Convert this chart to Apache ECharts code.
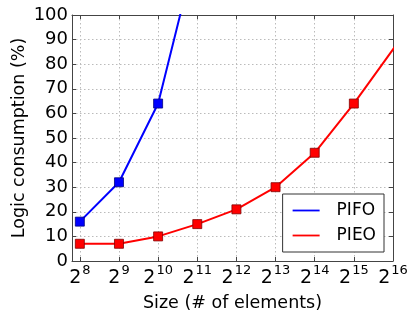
<!DOCTYPE html>
<html>
<head>
<meta charset="utf-8">
<script src="https://cdn.jsdelivr.net/npm/echarts@6/dist/echarts.min.js"></script>
<style>
html,body{margin:0;padding:0;background:#fff}
#chart{width:408px;height:314px}
</style>
</head>
<body>
<div id="chart"></div>
<script>
// x values are log2 of size
var xTicks = [8, 9, 10, 11, 12, 13, 14, 15, 16];
var pifoX = [8, 9, 10, 11];
var pifoY = [16, 32, 64, 128];
var pieoX = [8, 9, 10, 11, 12, 13, 14, 15, 17];
var pieoY = [7, 7, 10, 15, 21, 30, 44, 64, 108];

function pairs(xs, ys) {
  return xs.map(function (x, i) { return [x, ys[i]]; });
}

var font = 'DejaVu Sans';
var myChart = echarts.init(document.getElementById('chart'));
var option = {
  animation: false,
  textStyle: { fontFamily: font },
  grid: { left: 72, right: 15, top: 15, bottom: 53, outerBoundsMode: 'none' },
  legend: {
    right: 24, bottom: 62,
    orient: 'vertical',
    backgroundColor: '#fff',
    borderColor: '#333', borderWidth: 1, borderRadius: 0,
    padding: [8, 8, 8, 10],
    itemGap: 8,
    itemWidth: 27, itemHeight: 17,
    textStyle: { fontFamily: font, fontSize: 17, color: '#000', padding: [0, 0, 0, 12] },
    data: [
      { name: 'PIFO', icon: 'path://M0,7.5L30,7.5L30,9.5L0,9.5Z', itemStyle: { color: '#0000ff', borderWidth: 0 } },
      { name: 'PIEO', icon: 'path://M0,7.5L30,7.5L30,9.5L0,9.5Z', itemStyle: { color: '#ff0000', borderWidth: 0 } }
    ]
  },
  xAxis: [{
    type: 'value', min: 7.8, max: 16,
    name: 'Size (# of elements)', nameLocation: 'middle', nameGap: 33,
    nameTextStyle: { fontFamily: font, fontSize: 17.5, color: '#000' },
    axisLine: { lineStyle: { color: '#444', width: 1 } },
    axisTick: { inside: true, length: 4, lineStyle: { color: '#444' }, customValues: xTicks },
    axisLabel: {
      customValues: xTicks, margin: 3,
      formatter: function (v) { return '{b|2}{s|' + v + '}'; },
      rich: {
        b: { fontFamily: font, fontSize: 19, color: '#000', verticalAlign: 'bottom', lineHeight: 24 },
        s: { fontFamily: font, fontSize: 13, color: '#000', verticalAlign: 'top', lineHeight: 24, padding: [0, 0, 9, 1] }
      }
    },
    splitLine: { show: true, lineStyle: { color: '#bbb', type: [1.5, 2.5], width: 1 } }
  }, {
    type: 'value', min: 7.8, max: 16, position: 'top',
    axisLine: { show: true, onZero: false, lineStyle: { color: '#444', width: 1 } },
    axisTick: { show: true, inside: true, length: 4, lineStyle: { color: '#444' }, customValues: xTicks },
    axisLabel: { show: false },
    splitLine: { show: false }
  }],
  yAxis: [{
    type: 'value', min: 0, max: 100, interval: 10,
    name: 'Logic consumption (%)', nameLocation: 'middle', nameGap: 44, nameMoveOverlap: false,
    nameTextStyle: { fontFamily: font, fontSize: 17.5, color: '#000' },
    axisLine: { show: true, lineStyle: { color: '#444', width: 1 } },
    axisTick: { show: true, inside: true, length: 4, lineStyle: { color: '#444' } },
    axisLabel: { fontFamily: font, fontSize: 18, color: '#000', margin: 4 },
    splitLine: { show: true, lineStyle: { color: '#bbb', type: [1.5, 2.5], width: 1 } }
  }, {
    type: 'value', min: 0, max: 100, interval: 10, position: 'right',
    axisLine: { show: true, lineStyle: { color: '#444', width: 1 } },
    axisTick: { show: true, inside: true, length: 4, lineStyle: { color: '#444' } },
    axisLabel: { show: false },
    splitLine: { show: false }
  }],
  series: [{
    name: 'PIFO', type: 'line', clip: true,
    data: pairs(pifoX, pifoY),
    symbol: 'rect', symbolSize: 9,
    color: '#0000ff',
    lineStyle: { color: '#0000ff', width: 2 },
    itemStyle: { color: '#0000ff', borderColor: '#000080', borderWidth: 0.8 }
  }, {
    name: 'PIEO', type: 'line', clip: true,
    data: pairs(pieoX, pieoY),
    symbol: 'rect', symbolSize: 9,
    color: '#ff0000',
    lineStyle: { color: '#ff0000', width: 2 },
    itemStyle: { color: '#ff0000', borderColor: '#800000', borderWidth: 0.8 }
  }]
};
myChart.setOption(option);
</script>
</body>
</html>
